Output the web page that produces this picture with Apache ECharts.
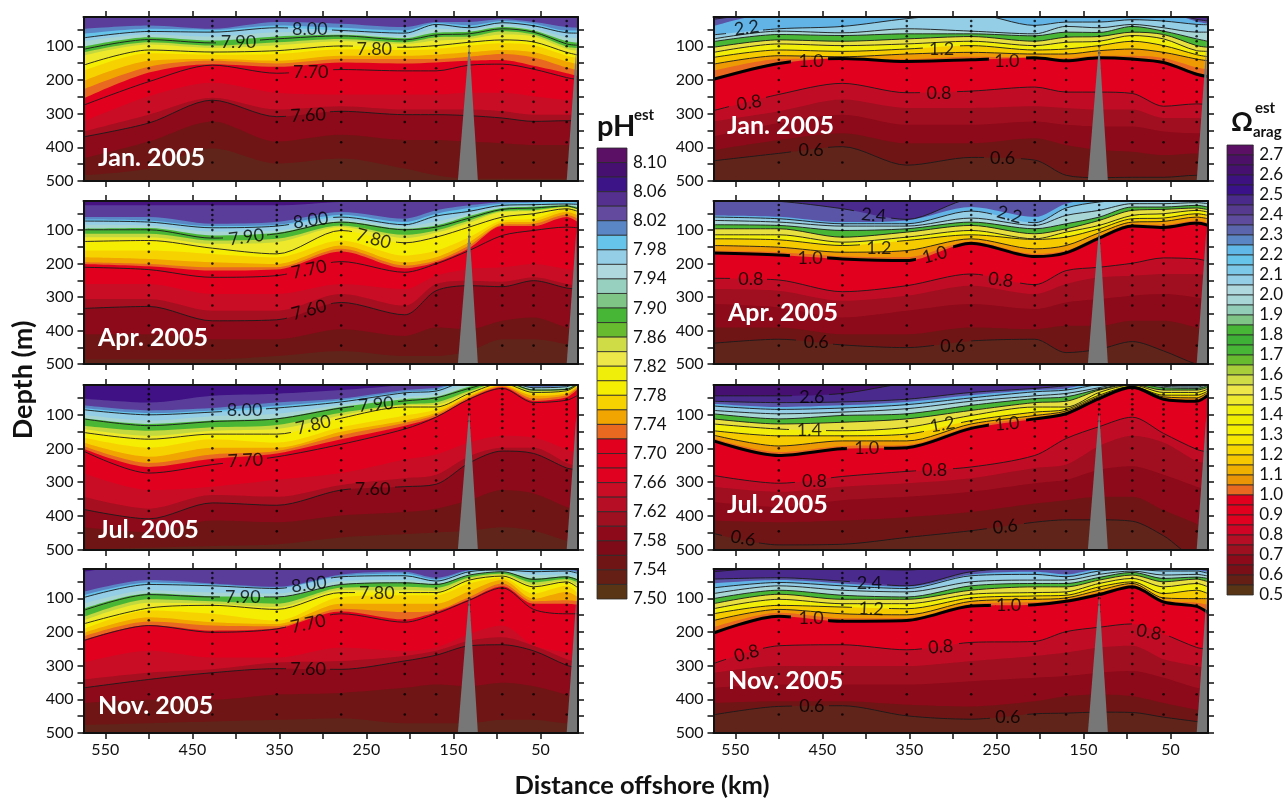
<!DOCTYPE html>
<html><head><meta charset="utf-8"><style>html,body{margin:0;background:#fff}#c{width:1286px;height:798px}</style>
<script src="https://cdn.jsdelivr.net/npm/echarts@6/dist/echarts.min.js"></script></head>
<body><div id="c"></div><script>
// distance offshore (km) of the columns read for every contour
const kmCols=[575,500,427,353,279,206,170,132,94,58,20,7];
const stations=[500,427,353,279,206,170,132,94,58,20];
const sampleDepths=[25,40,55,70,85,100,120,140,165,200,235,265,295,325,385,445];
const yTicks=[50,100,150,200,250,300,350,400,450,500];
const yLabels=[100,200,300,400,500];
const xTicks=[550,500,450,400,350,300,250,200,150,100,50];
const xLabels=[550,450,350,250,150,50];
const months=['Jan. 2005','Apr. 2005','Jul. 2005','Nov. 2005'];

// contour levels, top to bottom
const phLevels=['8.04','8.02','8.01','8.00','7.95','7.92','7.90','7.87','7.85','7.80','7.78','7.76','7.74','7.72','7.70','7.66','7.63','7.60','7.56','7.52'];
const phFills=['#5a3d9a','#5b86c6','#66c3ea','#93cde6','#a6d5d2','#4ab636',null,'#c2d83e','#eee92a','#f6ee02','#f6d300','#f0a500','#e8691f','#e2001f',null,'#c90d25','#a50f20','#8c0a1a','#701515','#60241a'];
const phLined=['8.00','7.90','7.80','7.70','7.60'];
const arLevels=['2.6','2.4','2.3','2.2','2.0','1.8','1.6','1.4','1.2','1.1','1.05','1.0','0.8','0.75','0.7','0.65','0.6'];
const arFills=['#4a2a8c','#5b55a8','#62b4e6','#93cde6','#a8d6d6','#4ab636','#e8e040','#f2ee0a','#f6cc00','#ee9a05','#e8691f','#e2001f','#c00d25','#a00f20','#8c0a1a','#701515','#60241a'];
const arLined=['2.6','2.4','2.2','2.0','1.8','1.6','1.4','1.2','1.1','1.0','0.8','0.6'];

// depth (m) of each level at each column
const phJan=[
[0,0,0,0,0,0,0,0,0,0,0,0],
[48,38,48,28,33,43,28,28,20,28,43,45],
[63,48,51,38,45,53,31,38,25,33,53,53],
[75,56,58,45,53,61,35,45,30,39,60,61],
[85,65,71,58,59,69,48,51,35,48,73,75],
[101,73,83,71,66,76,59,57,43,53,85,89],
[109,80,90,78,69,81,66,63,48,58,93,97],
[118,88,98,88,78,88,73,71,55,65,101,105],
[128,95,105,97,85,93,83,78,65,71,108,113],
[156,111,117,113,99,103,98,88,81,87,118,126],
[173,121,125,123,109,111,108,98,91,97,128,135],
[203,143,138,143,128,128,125,118,111,118,145,153],
[228,161,143,151,138,138,138,131,123,133,163,171],
[255,178,153,161,148,151,148,143,141,158,180,188],
[275,205,156,180,169,173,173,156,153,168,193,199],
[323,248,208,238,243,243,243,238,238,248,258,258],
[353,303,253,288,278,288,288,288,293,303,303,303],
[369,328,260,309,293,303,303,306,313,323,321,321],
[433,383,323,383,363,378,378,383,388,393,393,393],
[483,463,403,448,433,463,483,493,493,493,493,493]];
const phApr=[
[26,26,26,26,16,14,11,0,0,0,0,0],
[61,61,81,76,46,66,41,26,16,11,8,11],
[68,71,88,84,54,76,51,34,21,18,14,18],
[73,76,93,88,61,84,58,44,26,24,22,23],
[84,86,104,101,68,88,74,51,31,26,22,28],
[96,94,116,108,74,96,86,58,34,30,26,32],
[99,99,124,111,76,99,91,64,38,34,28,36],
[111,111,131,126,86,114,101,71,43,40,30,38],
[121,121,141,136,91,124,108,78,46,43,32,40],
[134,131,154,171,101,138,121,91,61,51,36,44],
[161,161,171,181,131,176,161,121,71,66,38,46],
[181,186,196,201,146,196,181,136,78,74,46,56],
[196,201,211,211,156,206,191,146,84,81,54,66],
[201,208,221,218,164,214,196,154,88,88,61,76],
[211,218,241,236,194,226,201,161,116,101,91,93],
[261,261,291,291,261,276,236,216,211,201,216,221],
[306,306,341,341,291,326,261,251,254,241,261,266],
[334,328,371,368,316,353,281,266,269,251,273,276],
[411,411,426,426,396,416,391,396,371,361,391,396],
[486,486,486,476,461,476,476,461,426,426,441,451]];
const phJul=[
[53,65,45,39,28,13,5,0,0,13,11,0],
[73,88,81,65,53,28,21,0,0,17,13,0],
[81,96,88,75,58,33,26,0,0,19,16,0],
[86,101,93,81,63,36,31,1,0,21,18,1],
[101,118,105,98,71,48,38,8,0,23,21,3],
[111,128,118,111,78,55,48,18,1,26,23,5],
[113,133,121,113,81,60,51,23,1,28,26,8],
[133,148,138,131,95,70,65,31,5,30,27,8],
[143,163,148,143,103,73,71,35,6,33,28,9],
[153,173,158,158,111,78,78,38,8,35,30,11],
[168,198,173,183,138,103,85,41,10,39,33,13],
[183,225,198,198,151,118,95,46,14,45,38,17],
[193,243,218,208,161,125,101,50,17,53,43,20],
[201,255,231,215,173,133,106,53,20,60,49,25],
[208,273,248,225,188,143,108,55,23,65,58,43],
[273,323,313,293,273,233,218,183,163,168,203,218],
[343,378,338,343,308,288,278,223,198,198,243,253],
[380,408,361,368,323,313,306,243,208,215,258,263],
[433,448,413,418,398,388,378,353,323,333,373,383],
[498,493,488,483,463,453,448,443,433,443,473,483]];
const phNov=[
[21,0,0,0,0,0,0,0,0,0,0,0],
[81,46,56,66,29,21,39,16,11,13,13,19],
[91,53,59,69,33,26,44,18,13,17,17,23],
[98,59,63,71,36,33,49,21,16,21,19,26],
[116,76,83,86,49,46,53,26,19,31,29,36],
[131,86,94,96,59,53,58,31,21,41,35,43],
[136,89,96,96,59,54,59,31,21,44,36,46],
[156,103,109,116,69,66,69,38,27,53,43,53],
[166,113,116,126,76,76,78,43,31,61,47,63],
[176,129,121,133,83,83,83,46,34,66,51,69],
[191,136,146,166,96,91,91,56,39,86,63,86],
[203,156,171,176,116,116,116,79,46,101,81,96],
[213,169,181,183,131,141,136,96,56,109,106,109],
[223,179,196,189,139,163,141,103,64,116,116,119],
[226,181,201,191,146,171,146,106,69,133,146,146],
[291,256,276,276,246,256,246,206,181,241,261,271],
[341,321,311,291,286,271,256,226,216,241,281,291],
[366,341,321,309,311,286,269,241,238,256,299,306],
[411,401,401,386,381,366,356,361,351,361,386,396],
[476,471,466,461,456,471,471,471,461,461,471,471]];
const arJan=[
[0,0,0,0,0,0,0,0,0,0,0,0],
[20,0,0,0,0,0,0,0,0,0,20,25],
[40,0,0,0,0,0,0,0,0,0,26,33],
[66,48,41,18,3,38,28,28,21,25,35,36],
[78,55,60,48,55,63,41,45,35,45,58,58],
[86,65,68,63,63,69,58,59,41,55,78,85],
[103,81,85,78,71,85,73,71,58,65,98,103],
[118,93,98,93,85,98,88,85,68,78,113,115],
[133,111,115,108,98,111,108,98,85,98,125,131],
[153,128,131,123,118,123,123,113,108,118,138,143],
[173,138,136,138,131,133,135,128,128,135,163,168],
[198,151,136,145,140,134,143,134,138,148,183,190],
[291,243,210,238,233,221,236,236,240,278,271,273],
[323,293,258,283,283,278,283,288,288,313,313,318],
[368,328,303,333,333,323,333,338,338,353,358,358],
[408,378,358,388,388,373,393,408,413,423,418,423],
[440,418,398,453,430,438,483,490,489,489,483,483]];
const arApr=[
[0,0,0,0,0,0,0,0,0,0,0,0],
[8,14,36,68,6,0,0,0,0,0,0,0],
[56,60,76,71,31,61,21,6,1,1,1,4],
[61,66,81,81,43,78,34,16,11,11,11,14],
[71,76,88,88,64,86,56,41,21,21,18,21],
[84,86,101,96,76,96,81,61,31,31,26,31],
[96,96,121,106,86,111,96,71,41,38,34,39],
[114,114,136,121,101,126,106,86,56,51,41,46],
[126,129,146,131,114,128,121,96,66,64,51,56],
[146,151,166,161,126,156,146,108,76,74,61,66],
[161,166,178,181,134,171,161,118,83,84,71,78],
[168,174,186,191,139,179,168,124,88,92,79,86],
[244,249,284,266,231,263,221,211,199,183,186,193],
[276,281,311,296,266,291,261,241,236,231,231,236],
[321,331,361,341,321,336,316,306,296,291,301,306],
[391,391,411,411,391,396,386,386,371,371,391,401],
[438,426,443,451,431,426,466,456,433,461,501,505]];
const arJul=[
[45,45,38,8,0,0,0,0,0,0,0,0],
[61,65,63,55,35,23,15,0,0,0,0,0],
[68,78,73,63,43,28,23,3,0,11,0,0],
[75,85,81,71,51,33,28,11,0,13,15,5],
[88,98,93,83,61,45,38,21,3,17,19,11],
[98,113,103,98,73,53,48,25,8,21,23,15],
[113,128,123,113,88,65,61,28,11,28,28,20],
[128,143,148,138,103,78,78,35,13,35,35,25],
[148,163,163,158,118,93,85,43,17,43,43,31],
[161,193,178,178,128,103,90,47,18,48,51,35],
[171,211,193,190,135,108,94,50,19,51,56,39],
[178,221,201,198,141,113,98,53,20,55,61,43],
[280,303,283,268,255,221,171,136,108,156,203,211],
[313,328,313,303,288,258,248,193,163,183,238,243],
[358,373,353,343,328,303,293,263,253,278,313,323],
[413,418,413,403,388,363,353,343,343,383,423,443],
[451,485,483,463,443,418,411,411,415,458,520,520]];
const arNov=[
[21,9,11,16,0,0,0,0,0,0,0,0],
[43,39,49,63,21,11,11,0,0,6,11,16],
[56,46,56,66,29,21,29,13,11,13,16,21],
[69,53,63,71,33,29,36,19,14,19,19,26],
[86,63,76,81,51,46,46,29,19,31,29,34],
[101,76,91,96,63,56,56,38,23,41,37,41],
[116,88,103,103,76,66,66,46,31,51,43,51],
[131,103,116,116,88,83,81,56,41,66,56,66],
[146,121,126,131,99,93,91,66,51,86,76,86],
[166,133,146,149,109,103,99,76,56,99,101,101],
[186,143,159,159,117,111,104,83,61,106,113,119],
[203,153,168,166,123,119,109,89,66,111,124,143],
[294,241,238,253,231,228,199,186,176,206,246,251],
[321,301,301,301,286,271,261,246,241,281,301,311],
[366,356,356,356,346,336,331,321,316,336,366,371],
[411,406,406,416,421,406,391,386,391,411,431,436],
[446,421,419,449,459,443,441,438,439,453,466,471]];

// contour labels: km, depth, text, tilt
const phJanLabels=[[315,48,'8.00',0],[397,88,'7.90',0],[241,108,'7.80',0],[314,178,'7.70',0],[317,305,'7.60',3]];
const phAprLabels=[[314,71,'8.00',8],[388,121,'7.90',8],[242,126,'7.80',-15],[316,218,'7.70',12],[316,339,'7.60',15]];
const phJulLabels=[[390,88,'8.00',0],[239,71,'7.90',5],[311,131,'7.80',13],[389,236,'7.70',3],[243,320,'7.60',0]];
const phNovLabels=[[316,59,'8.00',7],[392,98,'7.90',0],[238,86,'7.80',0],[317,176,'7.70',12],[317,311,'7.60',0]];
const arJanLabels=[[537,46,'2.2',8],[313,108,'1.2',0],[463,145,'1.0',0],[238,143,'1.0',0],[534,268,'0.8',10],[316,240,'0.8',0],[463,408,'0.6',0],[243,433,'0.6',0]];
const arAprLabels=[[391,56,'2.4',-5],[235,54,'2.2',-15],[385,153,'1.2',0],[464,183,'1.0',0],[321,174,'1.0',15],[532,248,'0.8',0],[245,249,'0.8',-8],[457,436,'0.6',0],[300,446,'0.6',0]];
const arJulLabels=[[462,48,'2.6',0],[465,145,'1.4',0],[312,130,'1.2',10],[399,200,'1.0',0],[238,128,'1.0',5],[459,298,'0.8',0],[321,263,'0.8',0],[541,466,'0.6',-10],[240,431,'0.6',7]];
const arNovLabels=[[396,54,'2.4',0],[394,131,'1.2',-3],[463,158,'1.0',0],[236,121,'1.0',0],[537,264,'0.8',15],[314,244,'0.8',5],[75,201,'0.8',-10],[462,421,'0.6',0],[237,453,'0.6',0]];

// seafloor ridges: km, depth
const ridgeA=[[145,500],[132,90],[122,500]];
const ridgeB=[[20,500],[9,105],[7,105],[7,500]];

// colour bars
const phBarTicks=[8.10,8.06,8.02,7.98,7.94,7.90,7.86,7.82,7.78,7.74,7.70,7.66,7.62,7.58,7.54,7.50];
const phBarColors=['#5b1065','#451070','#3d1488','#55308e','#634a9e','#5b86c6','#66c3ea','#93cde6','#aed8dd','#98d0bf','#7fc585','#47b536','#66bb2e','#cfdc45','#eee74a','#eeee0a','#f6ee02','#f6d300','#f0a500','#e8691f','#e2001f','#e2001f','#e0001f','#c90d25','#b50e25','#9e0f20','#8c0a1a','#7e0b18','#701515','#651f15','#5a3515'];
const arBarTicks=[2.7,2.6,2.5,2.4,2.3,2.2,2.1,2.0,1.9,1.8,1.7,1.6,1.5,1.4,1.3,1.2,1.1,1.0,0.9,0.8,0.7,0.6,0.5];
const arBarColors=['#5b1065','#4d1068','#45106f','#3d1280','#3a1188','#4a2a8a','#553a90','#5f4b9e','#5a65ae','#5b86c6','#60b8e8','#66c3ea','#7cc8e8','#93cde6','#aed8dd','#a8d6d6','#92cdb8','#7fc585','#47b536','#3fb036','#47b536','#66bb2e','#a8cf3a','#cfdc45','#eee74a','#eeea30','#eeee0a','#f0ee00','#f4ee00','#f6e800','#f6d800','#f6c800','#f0b000','#ea9505','#e8691f','#e2001f','#e2001f','#e0001f','#d00526','#b50e25','#9e0f20','#8c0a1a','#7a0f18','#651f15','#5a3515'];

const FONT='Lato,"Open Sans",sans-serif';
const grids=[],xAxes=[],yAxes=[],series=[],graphics=[];
const tops=[[17,181],[201,364],[385,550],[569,733]];
const tickStyle={show:true,inside:false,length:6,lineStyle:{color:'#111',width:1.5}};
const lineAx={show:true,onZero:false,lineStyle:{color:'#111',width:2}};

function addPanel(left,ti,rows,levels,fills,lined,labels,topFill,halfGap){
  const g=grids.length;
  grids.push({left,width:494.5,top:tops[ti][0],height:tops[ti][1]-tops[ti][0],show:true,backgroundColor:topFill,borderWidth:0,containLabel:false});
  const a=xAxes.length,b=yAxes.length;
  const xBase={type:'value',gridIndex:g,min:7,max:575,inverse:true,splitLine:{show:false},axisLine:lineAx,z:10};
  xAxes.push({...xBase,position:'bottom',axisTick:{...tickStyle,customValues:xTicks},
    axisLabel:{show:ti===3,customValues:xLabels,fontFamily:FONT,fontSize:16,color:'#111',margin:9}});
  xAxes.push({...xBase,position:'top',axisTick:{...tickStyle,customValues:xTicks},axisLabel:{show:false}});
  const yBase={type:'value',gridIndex:g,min:13,max:500,inverse:true,splitLine:{show:false},axisLine:lineAx,z:10};
  yAxes.push({...yBase,position:'left',axisTick:{...tickStyle,customValues:yTicks},
    axisLabel:{show:true,customValues:yLabels,fontFamily:FONT,fontSize:16,color:'#111',margin:10}});
  yAxes.push({...yBase,position:'right',axisTick:{...tickStyle,customValues:yTicks},axisLabel:{show:false}});
  const common={xAxisIndex:a,yAxisIndex:b,silent:true,animation:false};
  levels.forEach((lv,i)=>{
    const data=kmCols.map((k,j)=>[k,rows[i][j]]);
    if(fills[i]) series.push({...common,type:'line',smooth:0.3,symbol:'none',z:2,data,
      lineStyle:{width:0,color:fills[i]},areaStyle:{color:fills[i],opacity:1,origin:'end'}});
  });
  levels.forEach((lv,i)=>{
    if(!lined.includes(lv)) return;
    const data=kmCols.map((k,j)=>[k,rows[i][j]]);
    const gaps=labels.filter(l=>l[2]===lv).map(l=>[(575-l[0]-halfGap)/568,(575-l[0]+halfGap)/568]).sort((p,q)=>p[0]-q[0]);
    const ink=lv==='1.0'?'#000':'#1a1a1a';
    const stops=[{offset:0,color:ink}];
    gaps.forEach(p=>{
      stops.push({offset:Math.max(0,p[0]),color:ink},{offset:Math.max(0,p[0]),color:'rgba(0,0,0,0)'},
                 {offset:p[1],color:'rgba(0,0,0,0)'},{offset:p[1],color:ink});
    });
    stops.push({offset:1,color:ink});
    series.push({...common,type:'line',smooth:0.3,symbol:'none',z:3,data,
      lineStyle:{width:lv==='1.0'?3:0.9,color:{type:'linear',x:0,y:0,x2:1,y2:0,colorStops:stops}}});
  });
  const dots=[];
  stations.forEach(k=>sampleDepths.forEach(d=>dots.push([k,d])));
  series.push({...common,type:'scatter',symbol:'circle',symbolSize:2.6,z:4,itemStyle:{color:'#000'},data:dots});
  [ridgeA,ridgeB].forEach(r=>series.push({...common,type:'line',symbol:'none',z:5,data:r,
    lineStyle:{width:0},areaStyle:{color:'#777',opacity:1,origin:'end'}}));
  series.push({...common,type:'scatter',symbolSize:0,z:6,data:labels.map(l=>({value:[l[0],l[1]],
    label:{show:true,position:'inside',formatter:l[2],rotate:l[3],fontFamily:FONT,fontSize:18,color:'#000'}}))});
}

const panelData=[
 [83.5,0,phJan,phLevels,phFills,phLined,phJanLabels,'#3f1184',25],
 [83.5,1,phApr,phLevels,phFills,phLined,phAprLabels,'#471380',25],
 [83.5,2,phJul,phLevels,phFills,phLined,phJulLabels,'#3f1184',25],
 [83.5,3,phNov,phLevels,phFills,phLined,phNovLabels,'#3f1184',25],
 [713.5,0,arJan,arLevels,arFills,arLined,arJanLabels,'#451072',21],
 [713.5,1,arApr,arLevels,arFills,arLined,arAprLabels,'#471380',21],
 [713.5,2,arJul,arLevels,arFills,arLined,arJulLabels,'#451072',21],
 [713.5,3,arNov,arLevels,arFills,arLined,arNovLabels,'#451072',21]];
panelData.forEach(p=>addPanel(...p));

function addBar(left,top,h,w,min,max,colors,ticks,dec,pad){
  const g=grids.length,a=xAxes.length,b=yAxes.length;
  grids.push({left,top,width:w,height:h});
  xAxes.push({type:'value',gridIndex:g,min:0,max:1,show:false});
  yAxes.push({type:'value',gridIndex:g,min,max,position:'right',splitLine:{show:false},axisLine:{show:false},axisTick:{show:false},
    axisLabel:{show:true,customValues:ticks,formatter:v=>(+v).toFixed(dec),fontFamily:FONT,fontSize:17,color:'#111',margin:6,padding:[pad,0,0,0]}});
  const step=(max-min)/colors.length;
  const data=colors.map((c,i)=>[max-i*step,max-(i+1)*step]);
  series.push({type:'custom',xAxisIndex:a,yAxisIndex:b,silent:true,animation:false,data,encode:{y:[0,1]},
    renderItem:(params,api)=>{
      const p0=api.coord([0,api.value(0)]),p1=api.coord([1,api.value(1)]);
      return {type:'rect',shape:{x:p0[0],y:p0[1],width:p1[0]-p0[0],height:p1[1]-p0[1]},
        style:{fill:colors[params.dataIndex],stroke:'#2a2a2a',lineWidth:0.8}};
    }});
}
addBar(597,148,451,30,7.50,8.12,phBarColors,phBarTicks,2,3);
addBar(1227,145,450,28,0.50,2.75,arBarColors,arBarTicks,1,5);

const monthPos=[[98,158],[98,338],[98,530],[98,706],[727,126],[728,313],[727,505],[728,681]];
monthPos.forEach((p,i)=>graphics.push({type:'text',z:50,style:{text:months[i%4],x:p[0],y:p[1],fill:'#fff',font:'bold 25px '+FONT,textVerticalAlign:'middle'}}));
graphics.push({type:'text',z:50,rotation:Math.PI/2,x:23,y:380,style:{text:'Depth (m)',x:0,y:0,fill:'#111',font:'bold 27px '+FONT,textAlign:'center',textVerticalAlign:'middle'}});
graphics.push({type:'text',z:50,style:{text:'Distance offshore (km)',x:642,y:786,fill:'#111',font:'bold 25.5px '+FONT,textAlign:'center',textVerticalAlign:'middle'}});
graphics.push({type:'text',z:50,style:{text:'pH',x:597,y:127,fill:'#111',font:'bold 29px '+FONT,textVerticalAlign:'middle'}});
graphics.push({type:'text',z:50,style:{text:'est',x:634,y:115,fill:'#111',font:'bold 15px '+FONT,textVerticalAlign:'middle'}});
graphics.push({type:'text',z:50,style:{text:'Ω',x:1231,y:122,fill:'#111',font:'bold 27px '+FONT,textVerticalAlign:'middle'}});
graphics.push({type:'text',z:50,style:{text:'est',x:1255,y:108,fill:'#111',font:'bold 15px '+FONT,textVerticalAlign:'middle'}});
graphics.push({type:'text',z:50,style:{text:'arag',x:1253,y:132,fill:'#111',font:'bold 15px '+FONT,textVerticalAlign:'middle'}});

const chart=echarts.init(document.getElementById('c'),null,{renderer:'canvas'});
chart.setOption({animation:false,backgroundColor:'#fff',grid:grids,xAxis:xAxes,yAxis:yAxes,series,graphic:graphics});
</script></body></html>
